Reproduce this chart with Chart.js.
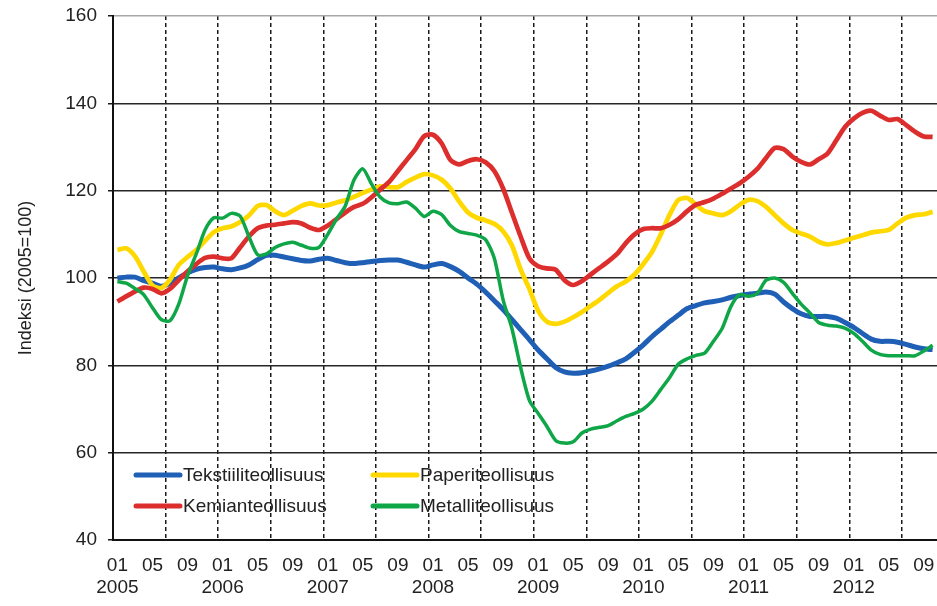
<!DOCTYPE html>
<html>
<head>
<meta charset="utf-8">
<script src="https://cdn.jsdelivr.net/npm/chart.js@4/dist/chart.umd.min.js"></script>
<style>
  html, body { margin: 0; padding: 0; background: #fff; }
</style>
</head>
<body>
<canvas id="myChart" width="937" height="606"></canvas>
<script>
// axis labels
const years = ['2005', '2006', '2007', '2008', '2009', '2010', '2011', '2012'];
const shownMonths = ['01', '05', '09'];
const lastMonth = 10; // data ends Oct 2012

// monthly index values, Jan 2005 .. Oct 2012
const tekstiili = [
  100, 100.2, 100.2, 99.4, 98.8, 98.1, 98.8, 100, 101.2, 102,
  102.4, 102.5, 102.1, 101.9, 102.3, 103, 104.2, 105.2, 105.2, 104.8,
  104.4, 104, 103.9, 104.3, 104.5, 104, 103.5, 103.3, 103.5, 103.8,
  104, 104.1, 104.1, 103.6, 103, 102.5, 103, 103.3, 102.6, 101.5,
  100, 98.6, 96.8, 94.8, 92.8, 90.5, 88.2, 85.9, 83.5, 81.5,
  79.5, 78.5, 78.2, 78.3, 78.7, 79.2, 79.8, 80.6, 81.5, 83,
  84.7, 86.6, 88.3, 90, 91.5, 93, 93.7, 94.3, 94.6, 95,
  95.6, 96, 96.3, 96.5, 96.8, 96.3, 94.5, 93, 91.8, 91.2,
  91.2, 91.2, 90.8, 89.8, 88.7, 87.3, 86, 85.5, 85.5, 85.3,
  84.8, 84.2, 83.8, 83.6
];
const paperi = [
  106.4, 106.8, 105, 101.5, 98.3, 97.7, 99.6, 103, 104.8, 106.4,
  108.5, 110.5, 111.4, 111.8, 112.8, 114.3, 116.5, 116.7, 115.3, 114.4,
  115.4, 116.5, 117.1, 116.6, 116.7, 117.3, 117.8, 118.6, 119.5, 120.3,
  121, 120.8, 120.8, 122, 123, 123.8, 123.5, 122.5, 120.5, 117.5,
  115, 113.8, 113.2, 112.4, 110.7, 107.5, 102, 97.5, 92.5, 90,
  89.5, 90, 91, 92.2, 93.6, 95, 96.6, 98.1, 99.2, 100.8,
  103.2, 106, 110, 114.5, 117.9, 118.3, 116.8, 115.3, 114.8, 114.4,
  115.3, 116.8, 117.9, 117.6, 116.3, 114.4, 112.5, 111, 110.2, 109.5,
  108.3, 107.7, 108, 108.6, 109.2, 109.8, 110.4, 110.7, 111, 112.5,
  113.8, 114.4, 114.6, 115.2
];
const kemian = [
  94.6, 95.8, 96.9, 97.8, 97.5, 96.5, 97.5, 99.5, 101.5, 103.2,
  104.6, 104.9, 104.5, 104.5, 107, 109.5, 111.4, 112, 112.2, 112.5,
  112.8, 112.5, 111.5, 111, 112, 113.5, 115, 116.3, 117, 118.5,
  120.3, 122, 124.5, 127, 129.5, 132.5, 132.8, 130.8, 127, 126,
  126.8, 127.2, 126.5, 124.5, 120.5, 115, 109.5, 104.5, 102.7, 102.2,
  101.9, 99.5, 98.4, 99.3, 100.8, 102.3, 103.8, 105.5, 108, 110,
  111.2, 111.4, 111.4, 112.2, 113.5, 115.3, 116.8, 117.4, 118.2, 119.3,
  120.5, 121.7, 123.2, 125, 127.5, 129.8, 129.5, 127.8, 126.6, 126,
  127.2, 128.5, 131.5, 134.6, 136.5, 137.8, 138.3, 137.2, 136.2, 136.4,
  135, 133.5, 132.4, 132.3
];
const metalli = [
  99.2, 98.8, 97.6, 96.2, 93.2, 90.5, 90.2, 94, 100.5, 105.5,
  111, 113.8, 113.7, 114.8, 114.2, 109.5, 105.3, 105.5, 107, 107.8,
  108.2, 107.5, 106.8, 107, 110, 113.5, 116.5, 122.5, 125, 121.5,
  118.5, 117.2, 117, 117.4, 116, 114.1, 115.3, 114.5, 112, 110.6,
  110.2, 109.8, 108.8, 104.5, 95, 88.5, 79.5, 72, 69, 66,
  62.8, 62.2, 62.5, 64.5, 65.4, 65.8, 66.2, 67.3, 68.3, 69,
  70, 71.8, 74.5, 77.2, 80.3, 81.5, 82.3, 82.8, 85.5, 88.5,
  93.5, 96.2, 95.8, 96.5, 99.5, 100, 99, 96.5, 94, 92,
  89.8, 89.2, 89, 88.5, 87.3, 85.5, 83.5, 82.5, 82.2, 82.2,
  82.2, 82.2, 83.3, 84.6
];

// categories: one per month
const categories = [];
years.forEach(function (y, k) {
  const n = k === years.length - 1 ? lastMonth : 12;
  for (let m = 1; m <= n; m++) {
    categories.push({ month: String(m).padStart(2, '0'), year: y });
  }
});

const FONT = '"Liberation Sans", Arial, sans-serif';
const INK = '#222222';

// legend drawn inside the plot, 2 columns
const insideLegend = {
  id: 'insideLegend',
  afterDatasetsDraw(chart) {
    const ctx = chart.ctx;
    const area = chart.chartArea;
    const sets = chart.data.datasets;
    ctx.save();
    ctx.font = '19px ' + FONT;
    ctx.textBaseline = 'middle';
    ctx.textAlign = 'left';
    sets.forEach(function (ds, k) {
      const col = k % 2;
      const row = Math.floor(k / 2);
      const x = area.left + 23 + col * 237;
      const y = area.bottom - 65 + row * 31;
      ctx.strokeStyle = ds.borderColor;
      ctx.lineWidth = 5;
      ctx.lineCap = 'round';
      ctx.beginPath();
      ctx.moveTo(x, y);
      ctx.lineTo(x + 44, y);
      ctx.stroke();
      ctx.fillStyle = INK;
      ctx.fillText(ds.label, x + 47, y + 1);
    });
    ctx.restore();
  }
};

function series(label, data, color, width, order) {
  return {
    label: label,
    data: data,
    borderColor: color,
    backgroundColor: color,
    borderWidth: width,
    pointRadius: 0,
    tension: 0.25,
    fill: false,
    order: order
  };
}

const ctx = document.getElementById('myChart');
const myChart = new Chart(ctx, {
  type: 'line',
  data: {
    labels: categories.map(function (c) { return c.month; }),
    datasets: [
      series('Tekstiiliteollisuus', tekstiili, '#1f5fb5', 5, 3),
      series('Paperiteollisuus', paperi, '#ffd800', 4.7, 2),
      series('Kemianteollisuus', kemian, '#dd2e2e', 4.7, 1),
      series('Metalliteollisuus', metalli, '#0fa648', 3.5, 0)
    ]
  },
  options: {
    responsive: false,
    animation: false,
    layout: { padding: { top: 16, right: 0, bottom: 0, left: 0 } },
    plugins: {
      legend: { display: false },
      tooltip: { enabled: false }
    },
    scales: {
      x: {
        type: 'category',
        offset: true,
        afterFit: function (scale) { scale.height = 66; },
        grid: {
          offset: true,
          drawTicks: true,
          tickLength: 14,
          tickColor: 'rgba(0,0,0,0)',
          lineWidth: 1.5,
          color: function (c) {
            const i = c.index;
            return (i > 0 && i < categories.length && i % 6 === 0) ? '#1a1a1a' : 'rgba(0,0,0,0)';
          }
        },
        border: { display: true, color: '#111', width: 2, dash: [4, 3] },
        ticks: {
          autoSkip: false,
          maxRotation: 0,
          minRotation: 0,
          padding: 0,
          color: INK,
          font: { family: FONT, size: 19 },
          callback: function (value, index) {
            const c = categories[index];
            if (shownMonths.indexOf(c.month) < 0) return '';
            return c.month === '01' ? [c.month, c.year] : c.month;
          }
        }
      },
      y: {
        min: 40,
        max: 160,
        afterFit: function (scale) { scale.width = 113; },
        ticks: {
          stepSize: 20,
          padding: 11,
          color: INK,
          font: { family: FONT, size: 19, lineHeight: 0.4 }
        },
        grid: {
          lineWidth: 1.5,
          tickLength: 5,
          color: function (c) {
            return c.tick && c.tick.value === 160 ? '#a8a8a8' : '#262626';
          },
          tickColor: '#1a1a1a'
        },
        border: { display: true, color: '#111', width: 2 },
        title: {
          display: true,
          text: 'Indeksi (2005=100)',
          color: INK,
          font: { family: FONT, size: 18 },
          padding: { top: 15, bottom: 0 }
        }
      }
    }
  },
  plugins: [insideLegend]
});
</script>
</body>
</html>
